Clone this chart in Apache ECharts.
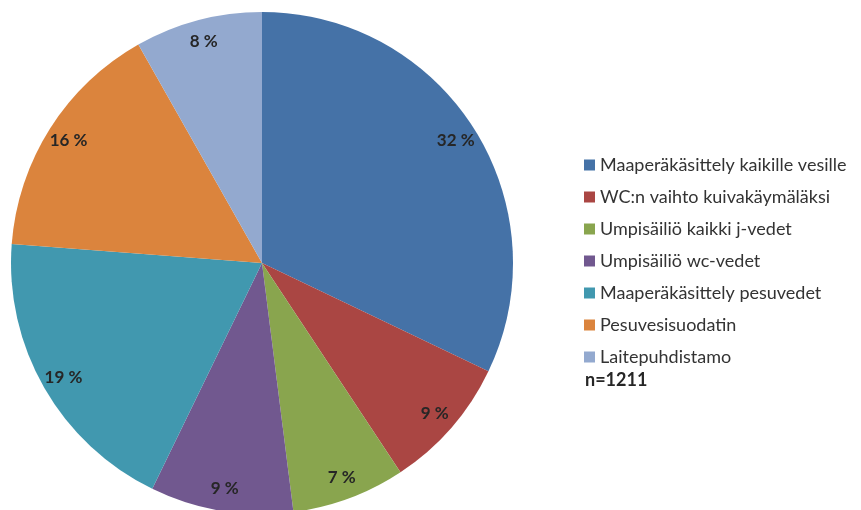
<!DOCTYPE html>
<html><head><meta charset="utf-8">
<script src="https://cdn.jsdelivr.net/npm/echarts@6/dist/echarts.min.js"></script>
<style>html,body{margin:0;padding:0;background:#fff}#c{width:861px;height:510px}</style>
</head><body><div id="c"></div>
<script>
const categories = ["Maaperäkäsittely kaikille vesille","WC:n vaihto kuivakäymäläksi","Umpisäiliö kaikki j-vedet","Umpisäiliö wc-vedet","Maaperäkäsittely pesuvedet","Pesuvesisuodatin","Laitepuhdistamo"];
const values = [32.1, 8.6, 7.3, 9.2, 19.0, 15.6, 8.2];
const colors = ["#4572A7","#AA4643","#89A54E","#71588F","#4198AF","#DB843D","#93A9CF"];
const sampleNote = "n=1211";

const data = categories.map((n,i)=>({name:n, value:values[i], itemStyle:{color:colors[i]}}));
const labelData = categories.map((n,i)=>({name:n, value:values[i]}));
const font = "Lato, 'Open Sans', sans-serif";
const chart = echarts.init(document.getElementById('c'));
chart.setOption({
  animation:false,
  legend:{orient:'vertical', left:584, top:156, padding:0, itemWidth:11, itemHeight:11, itemGap:14, icon:'rect',
    textStyle:{fontFamily:font, fontSize:18, color:'#333333'}, data:categories},
  title:{text:sampleNote, left:585, top:371, padding:0, textStyle:{fontFamily:font, fontSize:18, fontWeight:'bold', color:'#262626'}},
  series:[
    {type:'pie', center:[262,263], radius:[0,251], startAngle:90, clockwise:true, data:data,
     label:{show:false}, labelLine:{show:false}, silent:true},
    {type:'pie', center:[262,263], radius:[201,251], startAngle:90, clockwise:true, data:labelData,
     itemStyle:{color:'rgba(0,0,0,0)'}, silent:true, legendHoverLink:false,
     label:{show:true, position:'inside', fontFamily:font, fontSize:17, fontWeight:'bold', color:'#262626',
       formatter:p=>Math.round(p.percent)+' %'}, labelLine:{show:false}}
  ]
});
</script></body></html>
